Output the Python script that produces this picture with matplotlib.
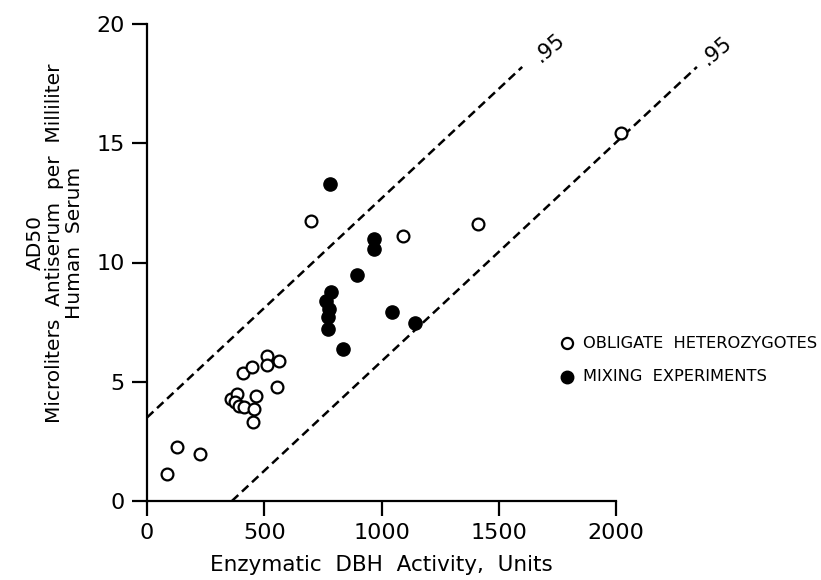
import matplotlib
matplotlib.use("Agg")
import matplotlib.pyplot as plt
import numpy as np

# obligate heterozygotes (open circles)
het_x = [84, 127, 226, 358, 385, 374, 391, 415, 458, 465, 453, 411, 448,
         513, 513, 564, 554, 699, 1093, 1413, 2020]
het_y = [1.13, 2.25, 1.97, 4.29, 4.49, 4.16, 3.98, 3.93, 3.84, 4.40, 3.31,
         5.35, 5.63, 6.08, 5.69, 5.87, 4.79, 11.75, 11.11, 11.61, 15.45]

# mixing experiments (filled circles)
mix_x = [780, 969, 969, 894, 785, 763, 778, 770, 773, 834, 1043, 1143]
mix_y = [13.28, 10.97, 10.55, 9.46, 8.78, 8.40, 8.04, 7.73, 7.20, 6.36,
         7.94, 7.48]

# .95 limit lines (end points)
upper_x = [0, 1600]
upper_y = [3.5, 18.2]
lower_x = [362, 2345]
lower_y = [0, 18.2]

x_ticks = [0, 500, 1000, 1500, 2000]
y_ticks = [0, 5, 10, 15, 20]

fig = plt.figure(figsize=(8.21, 5.8), dpi=100)
ax = fig.add_axes([147 / 821, 79 / 580, 469 / 821, 477 / 580])

ax.plot(upper_x, upper_y, color='black', lw=1.8, dashes=(3.5, 2), clip_on=False)
ax.plot(lower_x, lower_y, color='black', lw=1.8, dashes=(3.5, 2), clip_on=False)

ax.plot(het_x, het_y, 'o', ms=8.5, mfc='white', mec='black', mew=1.6, clip_on=False)
ax.plot(mix_x, mix_y, 'o', ms=9.5, mfc='black', mec='black', clip_on=False)

ax.text(1719, 19.0, '.95', fontsize=15, rotation=40, ha='center', va='center')
ax.text(2431, 18.9, '.95', fontsize=15, rotation=40, ha='center', va='center')

# legend drawn by hand, as in the original
ax.plot([1791], [6.62], 'o', ms=8, mfc='white', mec='black', mew=1.6, clip_on=False)
ax.plot([1791], [5.2], 'o', ms=9, mfc='black', mec='black', clip_on=False)
ax.text(1859, 6.62, 'OBLIGATE  HETEROZYGOTES', fontsize=11.7, ha='left', va='center')
ax.text(1859, 5.2, 'MIXING  EXPERIMENTS', fontsize=11.7, ha='left', va='center')

ax.set_xlim(0, 2000)
ax.set_ylim(0, 20)
ax.set_xticks(x_ticks)
ax.set_yticks(y_ticks)
for s in ['top', 'right']:
    ax.spines[s].set_visible(False)
for s in ['left', 'bottom']:
    ax.spines[s].set_linewidth(1.6)
ax.tick_params(direction='out', length=11, width=1.6, labelsize=16, pad=5)

fig.text(381 / 821, 1 - 565 / 580, 'Enzymatic  DBH  Activity,  Units',
         fontsize=15.5, ha='center', va='center')
fig.text(55 / 821, 1 - 243 / 580,
         'AD50\nMicroliters  Antiserum  per  Milliliter\nHuman  Serum',
         fontsize=14.5, rotation=90, ha='center', va='center',
         multialignment='center', linespacing=1.05)

fig.savefig('out.png', dpi=100)
